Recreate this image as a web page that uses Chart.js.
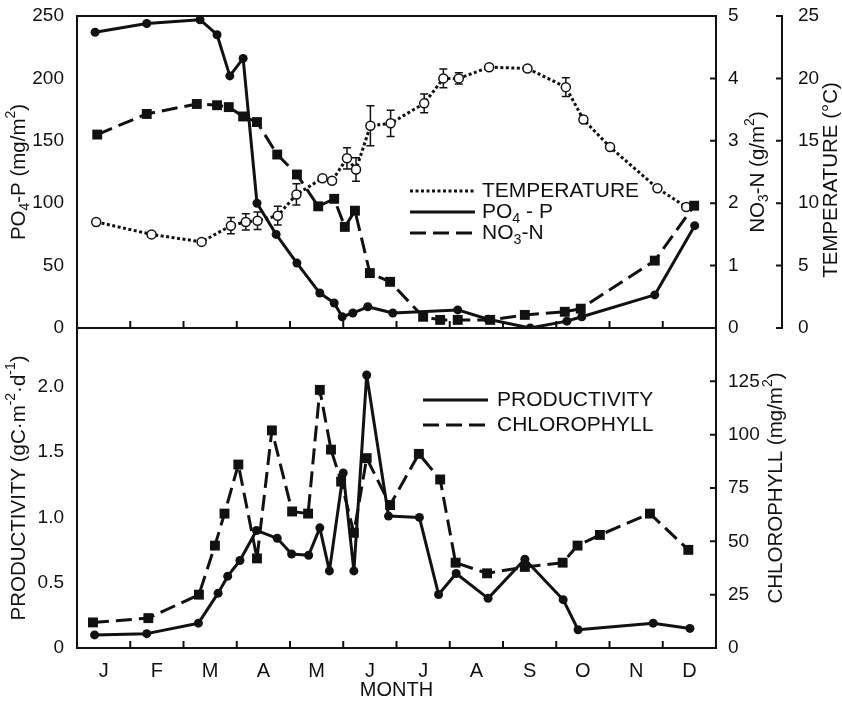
<!DOCTYPE html>
<html>
<head>
<meta charset="utf-8">
<script src="https://cdn.jsdelivr.net/npm/chart.js@4.4.0/dist/chart.umd.min.js"></script>
<style>
  body { margin: 0; background: #fff; }
  #wrap { position: relative; width: 842px; height: 702px; overflow: hidden; }
  canvas { position: absolute; left: 0; }
</style>
</head>
<body>
<div id="wrap">
  <canvas id="topChart" width="842" height="380" style="top:-20px"></canvas>
  <canvas id="botChart" width="842" height="402" style="top:300px"></canvas>
</div>
<script>
// ---- data (x = month, 0 = start of Jan, 12 = end of Dec) ----
const months = ['J', 'F', 'M', 'A', 'M', 'J', 'J', 'A', 'S', 'O', 'N', 'D'];
const monthEdges = [1, 2, 3, 4, 5, 6, 7, 8, 9, 10, 11];

const po4X = [0.34, 1.31, 2.31, 2.63, 2.87, 3.12, 3.38, 3.74, 4.13, 4.56, 4.83, 4.98, 5.18, 5.46, 5.93, 7.15, 7.72, 8.51, 9.2, 9.48, 10.85, 11.6];
const po4Y = [237, 244, 247, 235, 202, 216, 100, 75, 52, 28, 20, 9, 12, 17, 12, 14.5, 7, 0, 5.5, 9, 26.5, 82];

const no3X = [0.38, 1.31, 2.25, 2.63, 2.85, 3.12, 3.38, 3.76, 4.13, 4.53, 4.83, 5.03, 5.22, 5.5, 5.88, 6.5, 6.82, 7.15, 7.76, 8.41, 9.16, 9.46, 10.85, 11.59];
const no3Y = [3.10, 3.43, 3.59, 3.57, 3.54, 3.39, 3.30, 2.78, 2.46, 1.95, 2.07, 1.62, 1.88, 0.88, 0.74, 0.18, 0.13, 0.13, 0.13, 0.21, 0.26, 0.31, 1.08, 1.96];

const tempX = [0.36, 1.40, 2.34, 2.89, 3.17, 3.39, 3.77, 4.12, 4.61, 4.79, 5.07, 5.24, 5.51, 5.89, 6.52, 6.88, 7.17, 7.74, 8.46, 9.18, 9.51, 10.01, 10.9, 11.44];
const tempY = [8.5, 7.5, 6.9, 8.2, 8.5, 8.6, 9.0, 10.7, 12.0, 11.8, 13.6, 12.7, 16.2, 16.4, 18.0, 20.0, 20.0, 20.9, 20.8, 19.3, 16.7, 14.5, 11.2, 9.7];
const tempErr = [0, 0, 0, 0.65, 0.65, 0.7, 0.75, 0.85, 0, 0, 0.85, 0.95, 1.6, 1.05, 0.75, 0.75, 0.45, 0, 0, 0.75, 0, 0, 0, 0];

const prodX = [0.33, 1.31, 2.28, 2.65, 2.83, 3.06, 3.37, 3.76, 4.03, 4.35, 4.56, 4.74, 5.0, 5.2, 5.44, 5.85, 6.43, 6.79, 7.12, 7.72, 8.41, 9.13, 9.41, 10.82, 11.51];
const prodY = [0.10, 0.11, 0.19, 0.42, 0.55, 0.67, 0.90, 0.84, 0.72, 0.71, 0.92, 0.59, 1.34, 0.59, 2.09, 1.01, 1.0, 0.41, 0.57, 0.38, 0.68, 0.37, 0.14, 0.19, 0.15];

const chlX = [0.30, 1.34, 2.29, 2.59, 2.77, 3.03, 3.38, 3.66, 4.04, 4.34, 4.56, 4.77, 4.96, 5.2, 5.44, 5.88, 6.42, 6.82, 7.11, 7.7, 8.41, 9.12, 9.40, 9.82, 10.76, 11.48];
const chlY = [12, 14, 25, 48, 63, 86, 42, 102, 64, 63, 121, 93, 78, 54, 89, 67, 91, 79, 40, 35, 38, 40, 48, 53, 63, 46];

const po4Ticks = [0, 50, 100, 150, 200, 250];
const no3Ticks = [0, 1, 2, 3, 4, 5];
const tempTicks = [0, 5, 10, 15, 20, 25];
const prodTicks = [0, 0.5, 1.0, 1.5, 2.0];
const chlTicks = [0, 25, 50, 75, 100, 125];

// ---- helpers ----
const INK = '#111';
const FONT = "'Liberation Sans', Arial, Helvetica, sans-serif";
Chart.defaults.font.family = FONT;
Chart.defaults.color = INK;

const pts = (xs, ys) => xs.map((x, i) => ({ x: x, y: ys[i] }));

// "_x" subscript, "^x" superscript, braces for several characters
function richParts(s) {
  const out = [];
  let i = 0;
  while (i < s.length) {
    const c = s[i];
    if (c === '_' || c === '^') {
      let t;
      if (s[i + 1] === '{') { const j = s.indexOf('}', i); t = s.slice(i + 2, j); i = j + 1; }
      else { t = s[i + 1]; i += 2; }
      out.push({ t: t, mode: c });
    } else {
      let j = i;
      while (j < s.length && s[j] !== '_' && s[j] !== '^') j++;
      out.push({ t: s.slice(i, j), mode: '' });
      i = j;
    }
  }
  return out;
}

function drawRich(ctx, s, x, y, size, rot, align) {
  const parts = richParts(s);
  ctx.save();
  ctx.translate(x, y);
  ctx.rotate(rot);
  ctx.textBaseline = 'middle';
  ctx.textAlign = 'left';
  let w = 0;
  parts.forEach(p => {
    ctx.font = (p.mode ? size * 0.68 : size) + 'px ' + FONT;
    p.w = ctx.measureText(p.t).width;
    w += p.w;
  });
  let cx = align === 'left' ? 0 : -w / 2;
  parts.forEach(p => {
    ctx.font = (p.mode ? size * 0.68 : size) + 'px ' + FONT;
    const dy = p.mode === '_' ? size * 0.32 : p.mode === '^' ? -size * 0.38 : 0;
    ctx.fillText(p.t, cx, dy);
    cx += p.w;
  });
  ctx.restore();
}

function yAxis(pos, min, max, ticks, width, pad, fmt, weight) {
  return {
    type: 'linear', position: pos, min: min, max: max, weight: weight || 0,
    grid: { display: false }, border: { display: false },
    afterBuildTicks: s => { s.ticks = ticks.map(v => ({ value: v })); },
    afterFit: s => { s.width = width; },
    ticks: { font: { size: 19 }, color: INK, padding: pad, callback: fmt || (v => String(v)) }
  };
}

function xAxis(showLabels, height) {
  return {
    type: 'linear', position: 'bottom', min: 0, max: 12,
    grid: { display: false }, border: { display: false },
    afterBuildTicks: s => { s.ticks = months.map((m, i) => ({ value: i + 0.5 })); },
    afterFit: s => { s.height = height; },
    ticks: { display: showLabels, font: { size: 20 }, color: INK, padding: 3, maxRotation: 0, autoSkip: false,
             callback: (v, i) => months[i] },
    title: { display: showLabels, text: 'MONTH', font: { size: 20 }, color: INK, padding: 0 }
  };
}

const decor = {
  id: 'decor',
  beforeDatasetsDraw(chart) {
    const ctx = chart.ctx;
    chart.data.datasets.forEach((ds, di) => {
      if (!ds.errors) return;
      const meta = chart.getDatasetMeta(di);
      const ys = chart.scales[ds.yAxisID];
      ctx.save();
      ctx.strokeStyle = INK;
      ctx.lineWidth = 1.5;
      ctx.beginPath();
      ds.data.forEach((p, i) => {
        const e = ds.errors[i];
        if (!e) return;
        const x = meta.data[i].x;
        const y1 = ys.getPixelForValue(p.y + e), y2 = ys.getPixelForValue(p.y - e);
        ctx.moveTo(x, y1); ctx.lineTo(x, y2);
        ctx.moveTo(x - 4, y1); ctx.lineTo(x + 4, y1);
        ctx.moveTo(x - 4, y2); ctx.lineTo(x + 4, y2);
      });
      ctx.stroke();
      ctx.restore();
    });
  },
  afterDraw(chart, args, o) {
    const ctx = chart.ctx, a = chart.chartArea;
    const off = chart.canvas.offsetTop;
    ctx.save();
    ctx.strokeStyle = INK;
    ctx.fillStyle = INK;
    ctx.lineWidth = 2;
    ctx.strokeRect(a.left, a.top, a.right - a.left, a.bottom - a.top);
    // inward tick marks
    const xs = chart.scales.x;
    ctx.beginPath();
    monthEdges.forEach(v => {
      const px = xs.getPixelForValue(v);
      ctx.moveTo(px, a.bottom); ctx.lineTo(px, a.bottom - 7);
    });
    (o.inTicks || []).forEach(id => {
      const s = chart.scales[id];
      s.ticks.forEach(t => {
        const py = s.getPixelForValue(t.value);
        ctx.moveTo(s.left, py); ctx.lineTo(s.left - 6, py);
      });
    });
    (o.axisLines || []).forEach(id => {
      const s = chart.scales[id];
      ctx.moveTo(s.left, s.top - 1); ctx.lineTo(s.left, s.bottom + 1);
    });
    ctx.stroke();
    // axis titles, read bottom to top
    (o.titles || []).forEach(t => {
      const s = chart.scales[t.id];
      drawRich(ctx, t.text, s.left + t.dx, (s.top + s.bottom) / 2 + (t.dy || 0), 20.5, -Math.PI / 2);
    });
    // legend inside the plot (page coordinates)
    const L = o.legend;
    if (L) {
      L.items.forEach((di, k) => {
        const ds = chart.data.datasets[di];
        const y = L.y + k * L.dy - off;
        ctx.beginPath();
        ctx.setLineDash(ds.borderDash || []);
        ctx.lineWidth = ds.borderWidth;
        ctx.moveTo(L.x, y); ctx.lineTo(L.x + L.len, y);
        ctx.stroke();
        ctx.setLineDash([]);
        drawRich(ctx, ds.label, L.x + L.len + L.gap, y, 21, 0, 'left');
      });
    }
    ctx.restore();
  }
};

// ---- top panel ----
new Chart(document.getElementById('topChart'), {
  type: 'line',
  data: {
    datasets: [
      { label: 'PO_4 - P', data: pts(po4X, po4Y), yAxisID: 'yP', borderColor: INK, borderWidth: 3,
        pointStyle: 'circle', pointRadius: 4.5, pointBackgroundColor: INK, pointBorderColor: INK, pointBorderWidth: 0 },
      { label: 'NO_3-N', data: pts(no3X, no3Y), yAxisID: 'yN', borderColor: INK, borderWidth: 3, borderDash: [16, 7],
        pointStyle: 'rect', pointRadius: 7, pointBackgroundColor: INK, pointBorderColor: INK, pointBorderWidth: 0 },
      { label: 'TEMPERATURE', data: pts(tempX, tempY), errors: tempErr, yAxisID: 'yT', borderColor: INK, borderWidth: 3,
        borderDash: [3, 2.5], pointStyle: 'circle', pointRadius: 4.5, pointBackgroundColor: '#fff',
        pointBorderColor: INK, pointBorderWidth: 1.5 }
    ]
  },
  options: {
    responsive: false, animation: false,
    layout: { padding: { top: 36, left: 0, right: 0, bottom: 0 } },
    elements: { line: { tension: 0, borderJoinStyle: 'round' } },
    scales: {
      x: xAxis(false, 32),
      yP: yAxis('left', 0, 250, po4Ticks, 77, 5),
      yN: yAxis('right', 0, 5, no3Ticks, 66, 4, null, 0),
      yT: yAxis('right', 0, 25, tempTicks, 60, 8, null, 1)
    },
    plugins: {
      legend: { display: false }, tooltip: { enabled: false },
      decor: {
        inTicks: ['yN', 'yT'], axisLines: ['yT'],
        titles: [
          { id: 'yP', text: 'PO_4-P (mg/m^2)', dx: 19 },
          { id: 'yN', text: 'NO_3-N (g/m^2)', dx: 42 },
          { id: 'yT', text: 'TEMPERATURE (°C)', dx: 49, dy: 8 }
        ],
        legend: { x: 410, y: 191, dy: 21, len: 65, gap: 7, items: [2, 0, 1] }
      }
    }
  },
  plugins: [decor]
});

// ---- bottom panel ----
new Chart(document.getElementById('botChart'), {
  type: 'line',
  data: {
    datasets: [
      { label: 'PRODUCTIVITY', data: pts(prodX, prodY), yAxisID: 'yProd', borderColor: INK, borderWidth: 3,
        pointStyle: 'circle', pointRadius: 4.5, pointBackgroundColor: INK, pointBorderColor: INK, pointBorderWidth: 0 },
      { label: 'CHLOROPHYLL', data: pts(chlX, chlY), yAxisID: 'yChl', borderColor: INK, borderWidth: 3, borderDash: [16, 7],
        pointStyle: 'rect', pointRadius: 7, pointBackgroundColor: INK, pointBorderColor: INK, pointBorderWidth: 0 }
    ]
  },
  options: {
    responsive: false, animation: false,
    layout: { padding: { top: 28, left: 0, right: 0, bottom: 0 } },
    elements: { line: { tension: 0, borderJoinStyle: 'round' } },
    scales: {
      x: xAxis(true, 54),
      yProd: yAxis('left', 0, 2.45, prodTicks, 77, 5, v => (v === 0 ? '0' : v.toFixed(1))),
      yChl: yAxis('right', 0, 150, chlTicks, 126, 4)
    },
    plugins: {
      legend: { display: false }, tooltip: { enabled: false },
      decor: {
        inTicks: ['yChl'],
        titles: [
          { id: 'yProd', text: 'PRODUCTIVITY (gC·m^{-2}·d^{-1})', dx: 19 },
          { id: 'yChl', text: 'CHLOROPHYLL (mg/m^2)', dx: 60 }
        ],
        legend: { x: 423, y: 400, dy: 25, len: 65, gap: 9, items: [0, 1] }
      }
    }
  },
  plugins: [decor]
});
</script>
</body>
</html>
